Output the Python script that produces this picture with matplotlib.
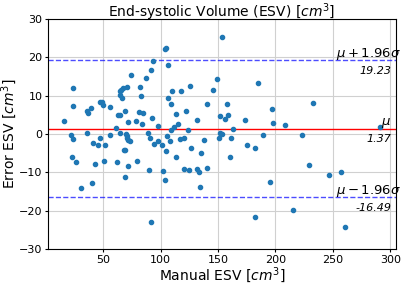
import numpy as np
import matplotlib
matplotlib.use('Agg')
import matplotlib.pyplot as plt

# manual ESV (x) and error between methods (y)
manual_esv = [15.7, 23.9, 23.7, 35.5, 36.4, 39.7, 47.4, 48.9, 50.0, 55.6,
              60.8, 63.2, 64.8, 68.9, 64.5, 65.7, 67.4, 64.2, 66.5, 70.6,
              74.2, 72.0, 78.5, 80.8, 84.8, 82.0, 82.6, 83.6, 87.1, 89.1,
              91.2, 93.1, 92.9, 97.7, 103.4, 104.4, 106.1, 106.1, 109.1, 110.3,
              117.8, 125.4, 140.2, 113.5, 121.9, 115.0, 111.5, 108.7, 123.7, 131.3,
              151.5, 156.0, 158.8, 173.8, 197.5, 208.7, 162.8, 151.8, 153.7, 188.9,
              153.8, 149.1, 145.7, 185.1, 158.2, 196.7, 232.3, 222.8, 291.2, 228.9,
              246.3, 256.7, 215.2, 260.2, 182.3, 195.4, 160.3, 175.4, 182.4, 151.0,
              161.0, 137.7, 135.2, 126.8, 120.1, 116.5, 113.6, 120.6, 124.4, 131.5,
              133.2, 140.4, 134.7, 102.3, 103.4, 104.4, 105.4, 108.5, 101.3, 97.6,
              93.9, 91.1, 90.0, 91.6, 79.0, 71.5, 69.1, 62.2, 50.9, 42.8,
              40.5, 30.3, 26.5, 22.5, 21.7, 23.7, 35.5, 41.3, 45.1, 47.1,
              51.2, 55.8, 64.2, 70.0, 70.8, 70.6, 71.8, 73.2, 67.7, 68.8]
error_esv = [3.4, 11.9, 7.4, 6.1, 5.5, 6.7, 8.3, 8.5, 7.6, 7.0,
             1.5, 5.0, 5.0, 6.0, 11.2, 11.6, 12.0, 10.2, 9.4, 12.3,
             15.3, 3.1, 3.5, 5.8, 5.5, 12.3, 10.0, 2.6, 14.6, 0.2,
             16.6, 19.0, 4.2, 2.2, 22.2, 22.4, 17.9, 9.4, 7.9, 11.3,
             11.3, 12.5, 7.8, 5.2, 6.1, 2.6, 1.8, 1.0, 1.1, 3.6,
             4.6, 4.0, 5.1, 3.8, 2.9, 2.5, 1.4, 0.3, 0.1, -0.3,
             25.2, 14.5, 11.5, 13.4, 7.9, 6.5, 8.2, -0.3, 1.8, -8.1,
             -10.8, -9.9, -19.7, -24.3, -21.7, -12.4, -6.1, -2.8, -3.6, -1.1,
             -1.1, -1.5, -5.0, -3.6, -0.9, -1.4, -6.1, -9.0, -9.3, -9.1,
             -10.0, -8.9, -13.8, -9.7, -11.9, -4.4, -0.6, -1.7, -2.9, -1.8,
             -2.7, -1.0, -9.4, -22.9, -7.0, -8.2, -11.3, -7.3, -7.0, -7.9,
             -12.7, -14.0, -7.3, -6.1, -0.2, -1.2, 0.3, -2.4, -2.8, -1.1,
             -2.8, -0.3, 0.2, 0.0, -0.5, -1.1, -1.6, -1.8, -4.2, -4.2]

mean_diff = 1.37
upper_loa = 19.23
lower_loa = -16.49

fig = plt.figure(figsize=(4.07, 2.85), dpi=100)
ax = fig.add_axes([0.118, 0.126, 0.855, 0.807])

ax.scatter(manual_esv, error_esv, s=9, color='tab:blue', zorder=3)
ax.axhline(mean_diff, color='red', lw=1)
ax.axhline(upper_loa, color='blue', lw=1, ls='--', alpha=0.7)
ax.axhline(lower_loa, color='blue', lw=1, ls='--', alpha=0.7)

ax.set_ylim(-30, 30)
ax.set_yticks(np.arange(-30, 31, 10))
ax.set_xticks(np.arange(50, 301, 50))
ax.grid(True, color='#d0d0d0', lw=0.8)
ax.set_axisbelow(True)
ax.tick_params(labelsize=8, length=2.5, pad=1.5)

tr = ax.get_yaxis_transform()
labels = [(upper_loa, r'$\mu+1.96\sigma$', '%.2f' % upper_loa),
          (mean_diff, r'$\mu$', '%.2f' % mean_diff),
          (lower_loa, r'$\mu-1.96\sigma$', '%.2f' % lower_loa)]
for yv, lab, val in labels:
    xl = 1.014 if lab != r'$\mu$' else 0.985
    ax.annotate(lab, xy=(xl, yv), xycoords=tr, xytext=(0, -1), textcoords='offset points',
                ha='right', va='bottom', fontsize=9.5)
    ax.annotate(val, xy=(0.986, yv), xycoords=tr, xytext=(0, -4), textcoords='offset points',
                ha='right', va='top', fontsize=8, style='italic')

# title placed from the top edge so the superscript box stays inside the figure
fig.text(0.118 + 0.855 / 2, 1 - 1.5 / 285, 'End-systolic Volume (ESV) [$cm^3$]',
         ha='center', va='top', fontsize=10)
ax.set_xlabel('Manual ESV [$cm^3$]', fontsize=10, labelpad=0)
ax.set_ylabel('Error ESV [$cm^3$]', fontsize=10, labelpad=0)

fig.savefig('out.png', dpi=100)
